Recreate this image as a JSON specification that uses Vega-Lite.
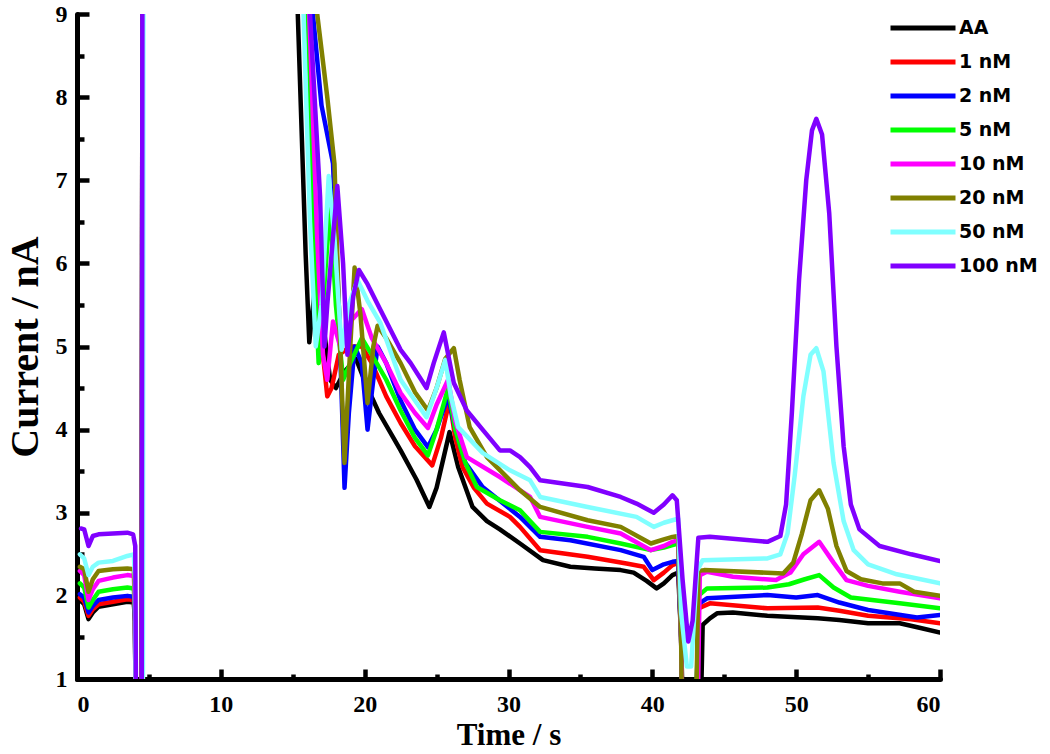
{
  "$schema": "https://vega.github.io/schema/vega-lite/v6.json",
  "width": 863,
  "height": 665,
  "autosize": {"type": "none"},
  "padding": {"left": 77, "top": 14, "right": 110, "bottom": 75},
  "background": "white",
  "config": {"view": {"stroke": null}},
  "data": {"values": [
    {"s":"AA","t":0.2,"v":1.95},{"s":"AA","t":0.5,"v":1.9},{"s":"AA","t":0.8,"v":1.72},{"s":"AA","t":1.1,"v":1.8},{"s":"AA","t":1.5,"v":1.87},{"s":"AA","t":2.5,"v":1.9},{"s":"AA","t":3.5,"v":1.93},{"s":"AA","t":3.95,"v":1.92},{"s":"AA","t":4.03,"v":1.7},{"s":"AA","t":4.1,"v":0},{"s":"AA","t":4.5,"v":0},{"s":"AA","t":4.55,"v":10},{"s":"AA","t":15.2,"v":10},{"s":"AA","t":15.35,"v":9},{"s":"AA","t":15.9,"v":6.1},{"s":"AA","t":16.15,"v":5.05},{"s":"AA","t":16.6,"v":5.8},{"s":"AA","t":17.1,"v":5.3},{"s":"AA","t":17.6,"v":4.6},{"s":"AA","t":18.0,"v":4.5},{"s":"AA","t":18.6,"v":4.7},{"s":"AA","t":19.4,"v":4.85},{"s":"AA","t":20.2,"v":4.5},{"s":"AA","t":21.0,"v":4.2},{"s":"AA","t":22.0,"v":3.9},{"s":"AA","t":22.5,"v":3.75},{"s":"AA","t":23.6,"v":3.4},{"s":"AA","t":24.5,"v":3.07},{"s":"AA","t":25.0,"v":3.3},{"s":"AA","t":25.9,"v":3.97},{"s":"AA","t":26.5,"v":3.55},{"s":"AA","t":27.5,"v":3.07},{"s":"AA","t":28.5,"v":2.9},{"s":"AA","t":29.4,"v":2.8},{"s":"AA","t":30.8,"v":2.63},{"s":"AA","t":32.4,"v":2.43},{"s":"AA","t":34.3,"v":2.35},{"s":"AA","t":36,"v":2.33},{"s":"AA","t":37.8,"v":2.31},{"s":"AA","t":38.7,"v":2.28},{"s":"AA","t":39.6,"v":2.18},{"s":"AA","t":40.3,"v":2.09},{"s":"AA","t":40.8,"v":2.15},{"s":"AA","t":41.4,"v":2.25},{"s":"AA","t":41.8,"v":2.28},{"s":"AA","t":42.0,"v":1.5},{"s":"AA","t":42.2,"v":0},{"s":"AA","t":43.3,"v":0},{"s":"AA","t":43.5,"v":1.65},{"s":"AA","t":44.0,"v":1.73},{"s":"AA","t":44.5,"v":1.79},{"s":"AA","t":45.6,"v":1.8},{"s":"AA","t":48,"v":1.76},{"s":"AA","t":51.5,"v":1.73},{"s":"AA","t":53,"v":1.71},{"s":"AA","t":55,"v":1.67},{"s":"AA","t":57.2,"v":1.67},{"s":"AA","t":58.5,"v":1.62},{"s":"AA","t":60,"v":1.56},

    {"s":"1 nM","t":0.2,"v":1.98},{"s":"1 nM","t":0.5,"v":1.93},{"s":"1 nM","t":0.8,"v":1.76},{"s":"1 nM","t":1.1,"v":1.84},{"s":"1 nM","t":1.5,"v":1.9},{"s":"1 nM","t":2.5,"v":1.93},{"s":"1 nM","t":3.5,"v":1.96},{"s":"1 nM","t":3.95,"v":1.95},{"s":"1 nM","t":4.03,"v":1.7},{"s":"1 nM","t":4.1,"v":0},{"s":"1 nM","t":4.5,"v":0},{"s":"1 nM","t":4.55,"v":10},{"s":"1 nM","t":15.9,"v":10},{"s":"1 nM","t":16.05,"v":9},{"s":"1 nM","t":16.6,"v":6.5},{"s":"1 nM","t":17.1,"v":4.9},{"s":"1 nM","t":17.4,"v":4.4},{"s":"1 nM","t":17.7,"v":4.5},{"s":"1 nM","t":18.2,"v":4.9},{"s":"1 nM","t":19.0,"v":5.0},{"s":"1 nM","t":19.8,"v":5.0},{"s":"1 nM","t":20.5,"v":4.8},{"s":"1 nM","t":21.5,"v":4.4},{"s":"1 nM","t":22.5,"v":4.08},{"s":"1 nM","t":23.5,"v":3.8},{"s":"1 nM","t":24.7,"v":3.57},{"s":"1 nM","t":25.3,"v":3.9},{"s":"1 nM","t":25.9,"v":4.35},{"s":"1 nM","t":26.3,"v":3.9},{"s":"1 nM","t":26.8,"v":3.55},{"s":"1 nM","t":27.6,"v":3.3},{"s":"1 nM","t":28.5,"v":3.11},{"s":"1 nM","t":30.1,"v":2.95},{"s":"1 nM","t":30.8,"v":2.83},{"s":"1 nM","t":32.2,"v":2.55},{"s":"1 nM","t":35.5,"v":2.47},{"s":"1 nM","t":38.2,"v":2.39},{"s":"1 nM","t":39.4,"v":2.35},{"s":"1 nM","t":40.1,"v":2.19},{"s":"1 nM","t":40.8,"v":2.28},{"s":"1 nM","t":41.4,"v":2.37},{"s":"1 nM","t":41.8,"v":2.4},{"s":"1 nM","t":42.0,"v":1.5},{"s":"1 nM","t":42.15,"v":0},{"s":"1 nM","t":43.0,"v":0},{"s":"1 nM","t":43.2,"v":1.85},{"s":"1 nM","t":44,"v":1.91},{"s":"1 nM","t":48,"v":1.85},{"s":"1 nM","t":51.5,"v":1.86},{"s":"1 nM","t":53,"v":1.82},{"s":"1 nM","t":55,"v":1.76},{"s":"1 nM","t":58,"v":1.72},{"s":"1 nM","t":60,"v":1.67},

    {"s":"2 nM","t":0.2,"v":2.02},{"s":"2 nM","t":0.5,"v":1.98},{"s":"2 nM","t":0.8,"v":1.8},{"s":"2 nM","t":1.1,"v":1.88},{"s":"2 nM","t":1.5,"v":1.95},{"s":"2 nM","t":2.5,"v":1.98},{"s":"2 nM","t":3.5,"v":2.0},{"s":"2 nM","t":3.95,"v":1.99},{"s":"2 nM","t":4.03,"v":1.7},{"s":"2 nM","t":4.1,"v":0},{"s":"2 nM","t":4.5,"v":0},{"s":"2 nM","t":4.55,"v":10},{"s":"2 nM","t":16.2,"v":10},{"s":"2 nM","t":16.4,"v":9},{"s":"2 nM","t":17.0,"v":7.9},{"s":"2 nM","t":17.8,"v":7.2},{"s":"2 nM","t":18.2,"v":5.5},{"s":"2 nM","t":18.6,"v":3.3},{"s":"2 nM","t":18.9,"v":4.2},{"s":"2 nM","t":19.3,"v":5.0},{"s":"2 nM","t":19.8,"v":4.8},{"s":"2 nM","t":20.2,"v":4.0},{"s":"2 nM","t":20.6,"v":4.6},{"s":"2 nM","t":20.9,"v":5.0},{"s":"2 nM","t":21.5,"v":4.8},{"s":"2 nM","t":22.5,"v":4.35},{"s":"2 nM","t":23.5,"v":4.0},{"s":"2 nM","t":24.4,"v":3.79},{"s":"2 nM","t":25.0,"v":4.0},{"s":"2 nM","t":25.8,"v":4.4},{"s":"2 nM","t":26.3,"v":4.0},{"s":"2 nM","t":27.0,"v":3.6},{"s":"2 nM","t":28.2,"v":3.31},{"s":"2 nM","t":30.8,"v":2.95},{"s":"2 nM","t":32.2,"v":2.71},{"s":"2 nM","t":34.3,"v":2.67},{"s":"2 nM","t":37.8,"v":2.55},{"s":"2 nM","t":39.4,"v":2.47},{"s":"2 nM","t":40.0,"v":2.31},{"s":"2 nM","t":40.8,"v":2.38},{"s":"2 nM","t":41.4,"v":2.41},{"s":"2 nM","t":41.8,"v":2.42},{"s":"2 nM","t":42.0,"v":1.5},{"s":"2 nM","t":42.15,"v":0},{"s":"2 nM","t":43.0,"v":0},{"s":"2 nM","t":43.2,"v":1.9},{"s":"2 nM","t":43.8,"v":1.97},{"s":"2 nM","t":48,"v":2.01},{"s":"2 nM","t":50,"v":1.98},{"s":"2 nM","t":51.5,"v":2.01},{"s":"2 nM","t":53,"v":1.92},{"s":"2 nM","t":55,"v":1.83},{"s":"2 nM","t":58.4,"v":1.74},{"s":"2 nM","t":60,"v":1.77},

    {"s":"5 nM","t":0.2,"v":2.15},{"s":"5 nM","t":0.5,"v":2.1},{"s":"5 nM","t":0.8,"v":1.86},{"s":"5 nM","t":1.1,"v":1.95},{"s":"5 nM","t":1.5,"v":2.05},{"s":"5 nM","t":2.5,"v":2.08},{"s":"5 nM","t":3.5,"v":2.1},{"s":"5 nM","t":3.95,"v":2.09},{"s":"5 nM","t":4.03,"v":1.8},{"s":"5 nM","t":4.1,"v":0},{"s":"5 nM","t":4.5,"v":0},{"s":"5 nM","t":4.55,"v":10},{"s":"5 nM","t":15.9,"v":10},{"s":"5 nM","t":16.05,"v":9},{"s":"5 nM","t":16.5,"v":6.0},{"s":"5 nM","t":16.8,"v":4.8},{"s":"5 nM","t":17.1,"v":5.5},{"s":"5 nM","t":17.6,"v":6.7},{"s":"5 nM","t":18.0,"v":5.5},{"s":"5 nM","t":18.5,"v":4.6},{"s":"5 nM","t":19.0,"v":4.8},{"s":"5 nM","t":19.8,"v":5.1},{"s":"5 nM","t":20.5,"v":4.9},{"s":"5 nM","t":21.5,"v":4.6},{"s":"5 nM","t":22.5,"v":4.23},{"s":"5 nM","t":23.5,"v":3.9},{"s":"5 nM","t":24.4,"v":3.69},{"s":"5 nM","t":25.0,"v":4.0},{"s":"5 nM","t":25.8,"v":4.5},{"s":"5 nM","t":26.3,"v":4.0},{"s":"5 nM","t":27.0,"v":3.6},{"s":"5 nM","t":27.8,"v":3.31},{"s":"5 nM","t":29.4,"v":3.15},{"s":"5 nM","t":30.8,"v":3.03},{"s":"5 nM","t":32.2,"v":2.77},{"s":"5 nM","t":35.5,"v":2.71},{"s":"5 nM","t":37.8,"v":2.63},{"s":"5 nM","t":39.9,"v":2.55},{"s":"5 nM","t":40.8,"v":2.58},{"s":"5 nM","t":41.4,"v":2.61},{"s":"5 nM","t":41.8,"v":2.63},{"s":"5 nM","t":42.0,"v":1.5},{"s":"5 nM","t":42.15,"v":0},{"s":"5 nM","t":43.0,"v":0},{"s":"5 nM","t":43.2,"v":2.0},{"s":"5 nM","t":43.8,"v":2.09},{"s":"5 nM","t":48,"v":2.1},{"s":"5 nM","t":49.5,"v":2.14},{"s":"5 nM","t":50.6,"v":2.2},{"s":"5 nM","t":51.6,"v":2.25},{"s":"5 nM","t":52.6,"v":2.1},{"s":"5 nM","t":53.8,"v":1.98},{"s":"5 nM","t":57.2,"v":1.91},{"s":"5 nM","t":60,"v":1.85},

    {"s":"10 nM","t":0.2,"v":2.3},{"s":"10 nM","t":0.5,"v":2.25},{"s":"10 nM","t":0.8,"v":1.95},{"s":"10 nM","t":1.1,"v":2.08},{"s":"10 nM","t":1.5,"v":2.18},{"s":"10 nM","t":2.5,"v":2.22},{"s":"10 nM","t":3.5,"v":2.25},{"s":"10 nM","t":3.95,"v":2.24},{"s":"10 nM","t":4.03,"v":1.9},{"s":"10 nM","t":4.1,"v":0},{"s":"10 nM","t":4.5,"v":0},{"s":"10 nM","t":4.55,"v":10},{"s":"10 nM","t":16.0,"v":10},{"s":"10 nM","t":16.15,"v":9},{"s":"10 nM","t":16.7,"v":6.3},{"s":"10 nM","t":17.1,"v":4.9},{"s":"10 nM","t":17.4,"v":4.6},{"s":"10 nM","t":17.8,"v":5.3},{"s":"10 nM","t":18.3,"v":5.0},{"s":"10 nM","t":19.0,"v":5.3},{"s":"10 nM","t":19.8,"v":5.45},{"s":"10 nM","t":20.5,"v":5.1},{"s":"10 nM","t":21.5,"v":4.8},{"s":"10 nM","t":22.5,"v":4.44},{"s":"10 nM","t":23.5,"v":4.2},{"s":"10 nM","t":24.4,"v":4.02},{"s":"10 nM","t":25.0,"v":4.3},{"s":"10 nM","t":25.8,"v":4.6},{"s":"10 nM","t":26.3,"v":4.1},{"s":"10 nM","t":27.1,"v":3.67},{"s":"10 nM","t":29.4,"v":3.43},{"s":"10 nM","t":31.5,"v":3.19},{"s":"10 nM","t":32.2,"v":2.95},{"s":"10 nM","t":35.5,"v":2.83},{"s":"10 nM","t":37.8,"v":2.75},{"s":"10 nM","t":39.9,"v":2.55},{"s":"10 nM","t":40.8,"v":2.6},{"s":"10 nM","t":41.4,"v":2.65},{"s":"10 nM","t":41.8,"v":2.67},{"s":"10 nM","t":42.0,"v":1.5},{"s":"10 nM","t":42.15,"v":0},{"s":"10 nM","t":43.1,"v":0},{"s":"10 nM","t":43.3,"v":2.25},{"s":"10 nM","t":43.8,"v":2.29},{"s":"10 nM","t":45.6,"v":2.23},{"s":"10 nM","t":48.6,"v":2.19},{"s":"10 nM","t":49.6,"v":2.28},{"s":"10 nM","t":50.5,"v":2.5},{"s":"10 nM","t":51.6,"v":2.65},{"s":"10 nM","t":52.6,"v":2.4},{"s":"10 nM","t":53.5,"v":2.19},{"s":"10 nM","t":55,"v":2.12},{"s":"10 nM","t":57.2,"v":2.05},{"s":"10 nM","t":60,"v":1.97},

    {"s":"20 nM","t":0.2,"v":2.35},{"s":"20 nM","t":0.5,"v":2.32},{"s":"20 nM","t":0.8,"v":2.05},{"s":"20 nM","t":1.1,"v":2.2},{"s":"20 nM","t":1.5,"v":2.3},{"s":"20 nM","t":2.5,"v":2.32},{"s":"20 nM","t":3.5,"v":2.33},{"s":"20 nM","t":3.95,"v":2.32},{"s":"20 nM","t":4.03,"v":2.0},{"s":"20 nM","t":4.1,"v":0},{"s":"20 nM","t":4.5,"v":0},{"s":"20 nM","t":4.55,"v":10},{"s":"20 nM","t":16.5,"v":10},{"s":"20 nM","t":16.7,"v":9},{"s":"20 nM","t":17.4,"v":8.0},{"s":"20 nM","t":17.9,"v":7.2},{"s":"20 nM","t":18.2,"v":5.5},{"s":"20 nM","t":18.6,"v":3.6},{"s":"20 nM","t":19.0,"v":5.0},{"s":"20 nM","t":19.3,"v":5.95},{"s":"20 nM","t":19.7,"v":5.4},{"s":"20 nM","t":20.2,"v":4.32},{"s":"20 nM","t":20.6,"v":5.0},{"s":"20 nM","t":20.9,"v":5.25},{"s":"20 nM","t":21.5,"v":5.1},{"s":"20 nM","t":22.5,"v":4.8},{"s":"20 nM","t":23.5,"v":4.45},{"s":"20 nM","t":24.4,"v":4.23},{"s":"20 nM","t":25.0,"v":4.5},{"s":"20 nM","t":25.6,"v":4.85},{"s":"20 nM","t":26.2,"v":4.98},{"s":"20 nM","t":26.6,"v":4.6},{"s":"20 nM","t":27.3,"v":4.03},{"s":"20 nM","t":28.5,"v":3.67},{"s":"20 nM","t":30.8,"v":3.27},{"s":"20 nM","t":32.2,"v":3.07},{"s":"20 nM","t":35.5,"v":2.91},{"s":"20 nM","t":37.8,"v":2.83},{"s":"20 nM","t":39.9,"v":2.63},{"s":"20 nM","t":40.8,"v":2.68},{"s":"20 nM","t":41.4,"v":2.71},{"s":"20 nM","t":41.8,"v":2.72},{"s":"20 nM","t":42.0,"v":1.5},{"s":"20 nM","t":42.1,"v":0},{"s":"20 nM","t":43.0,"v":0},{"s":"20 nM","t":43.2,"v":2.3},{"s":"20 nM","t":43.6,"v":2.31},{"s":"20 nM","t":49.1,"v":2.27},{"s":"20 nM","t":49.8,"v":2.4},{"s":"20 nM","t":50.4,"v":2.75},{"s":"20 nM","t":51.0,"v":3.15},{"s":"20 nM","t":51.6,"v":3.27},{"s":"20 nM","t":52.2,"v":3.05},{"s":"20 nM","t":52.8,"v":2.6},{"s":"20 nM","t":53.5,"v":2.3},{"s":"20 nM","t":54.5,"v":2.2},{"s":"20 nM","t":56.0,"v":2.15},{"s":"20 nM","t":57.2,"v":2.15},{"s":"20 nM","t":58.2,"v":2.05},{"s":"20 nM","t":60,"v":2.0},

    {"s":"50 nM","t":0.2,"v":2.5},{"s":"50 nM","t":0.5,"v":2.45},{"s":"50 nM","t":0.8,"v":2.25},{"s":"50 nM","t":1.1,"v":2.35},{"s":"50 nM","t":1.5,"v":2.4},{"s":"50 nM","t":2.5,"v":2.42},{"s":"50 nM","t":3.5,"v":2.48},{"s":"50 nM","t":3.95,"v":2.5},{"s":"50 nM","t":4.03,"v":2.2},{"s":"50 nM","t":4.1,"v":0},{"s":"50 nM","t":4.58,"v":0},{"s":"50 nM","t":4.62,"v":10},{"s":"50 nM","t":15.6,"v":10},{"s":"50 nM","t":15.75,"v":9},{"s":"50 nM","t":16.2,"v":6.5},{"s":"50 nM","t":16.6,"v":5.0},{"s":"50 nM","t":17.0,"v":5.5},{"s":"50 nM","t":17.5,"v":7.05},{"s":"50 nM","t":17.9,"v":6.3},{"s":"50 nM","t":18.4,"v":4.96},{"s":"50 nM","t":18.9,"v":5.5},{"s":"50 nM","t":19.5,"v":5.8},{"s":"50 nM","t":20.2,"v":5.55},{"s":"50 nM","t":21.1,"v":5.28},{"s":"50 nM","t":22.5,"v":4.6},{"s":"50 nM","t":24.3,"v":4.15},{"s":"50 nM","t":25.0,"v":4.5},{"s":"50 nM","t":25.6,"v":4.84},{"s":"50 nM","t":26.0,"v":4.4},{"s":"50 nM","t":26.5,"v":4.03},{"s":"50 nM","t":28.2,"v":3.72},{"s":"50 nM","t":30.1,"v":3.51},{"s":"50 nM","t":31.5,"v":3.39},{"s":"50 nM","t":32.2,"v":3.19},{"s":"50 nM","t":35.5,"v":3.07},{"s":"50 nM","t":38.9,"v":2.95},{"s":"50 nM","t":40.1,"v":2.83},{"s":"50 nM","t":40.8,"v":2.88},{"s":"50 nM","t":41.4,"v":2.91},{"s":"50 nM","t":41.8,"v":2.93},{"s":"50 nM","t":42.0,"v":1.8},{"s":"50 nM","t":42.4,"v":1.15},{"s":"50 nM","t":42.7,"v":1.15},{"s":"50 nM","t":43.1,"v":2.3},{"s":"50 nM","t":43.5,"v":2.43},{"s":"50 nM","t":48,"v":2.45},{"s":"50 nM","t":48.9,"v":2.5},{"s":"50 nM","t":49.4,"v":2.75},{"s":"50 nM","t":49.9,"v":3.45},{"s":"50 nM","t":50.5,"v":4.4},{"s":"50 nM","t":51.0,"v":4.9},{"s":"50 nM","t":51.4,"v":4.98},{"s":"50 nM","t":51.9,"v":4.7},{"s":"50 nM","t":52.6,"v":3.6},{"s":"50 nM","t":53.3,"v":2.9},{"s":"50 nM","t":54.0,"v":2.55},{"s":"50 nM","t":55.0,"v":2.38},{"s":"50 nM","t":57.0,"v":2.26},{"s":"50 nM","t":60,"v":2.15},

    {"s":"100 nM","t":0.28,"v":2.81},{"s":"100 nM","t":0.5,"v":2.8},{"s":"100 nM","t":0.8,"v":2.6},{"s":"100 nM","t":1.1,"v":2.72},{"s":"100 nM","t":1.5,"v":2.74},{"s":"100 nM","t":2.5,"v":2.75},{"s":"100 nM","t":3.5,"v":2.76},{"s":"100 nM","t":3.9,"v":2.74},{"s":"100 nM","t":4.05,"v":2.6},{"s":"100 nM","t":4.12,"v":0},{"s":"100 nM","t":4.5,"v":0},{"s":"100 nM","t":4.55,"v":10},{"s":"100 nM","t":16.0,"v":10},{"s":"100 nM","t":16.2,"v":9},{"s":"100 nM","t":16.9,"v":6.8},{"s":"100 nM","t":17.2,"v":5.0},{"s":"100 nM","t":17.4,"v":5.5},{"s":"100 nM","t":18.1,"v":6.93},{"s":"100 nM","t":18.5,"v":6.0},{"s":"100 nM","t":18.8,"v":4.9},{"s":"100 nM","t":19.2,"v":5.6},{"s":"100 nM","t":19.6,"v":5.92},{"s":"100 nM","t":20.2,"v":5.75},{"s":"100 nM","t":21.1,"v":5.44},{"s":"100 nM","t":22.5,"v":4.96},{"s":"100 nM","t":23.2,"v":4.8},{"s":"100 nM","t":24.3,"v":4.5},{"s":"100 nM","t":24.8,"v":4.8},{"s":"100 nM","t":25.5,"v":5.17},{"s":"100 nM","t":26.2,"v":4.56},{"s":"100 nM","t":27.1,"v":4.23},{"s":"100 nM","t":28.2,"v":4.0},{"s":"100 nM","t":29.4,"v":3.75},{"s":"100 nM","t":30.1,"v":3.75},{"s":"100 nM","t":30.8,"v":3.67},{"s":"100 nM","t":31.5,"v":3.55},{"s":"100 nM","t":32.2,"v":3.39},{"s":"100 nM","t":35.5,"v":3.31},{"s":"100 nM","t":37.8,"v":3.19},{"s":"100 nM","t":38.9,"v":3.11},{"s":"100 nM","t":40.1,"v":3.0},{"s":"100 nM","t":40.8,"v":3.1},{"s":"100 nM","t":41.4,"v":3.21},{"s":"100 nM","t":41.7,"v":3.15},{"s":"100 nM","t":42.1,"v":2.2},{"s":"100 nM","t":42.5,"v":1.45},{"s":"100 nM","t":42.8,"v":1.7},{"s":"100 nM","t":43.2,"v":2.7},{"s":"100 nM","t":44,"v":2.71},{"s":"100 nM","t":48,"v":2.65},{"s":"100 nM","t":48.9,"v":2.72},{"s":"100 nM","t":49.3,"v":3.1},{"s":"100 nM","t":49.7,"v":4.2},{"s":"100 nM","t":50.2,"v":5.8},{"s":"100 nM","t":50.7,"v":7.0},{"s":"100 nM","t":51.1,"v":7.6},{"s":"100 nM","t":51.4,"v":7.74},{"s":"100 nM","t":51.8,"v":7.55},{"s":"100 nM","t":52.3,"v":6.6},{"s":"100 nM","t":52.8,"v":5.0},{"s":"100 nM","t":53.3,"v":3.8},{"s":"100 nM","t":53.8,"v":3.1},{"s":"100 nM","t":54.4,"v":2.8},{"s":"100 nM","t":55.8,"v":2.6},{"s":"100 nM","t":58,"v":2.5},{"s":"100 nM","t":60,"v":2.42}
  ]},
  "resolve": {"axis": {"x": "independent", "y": "independent"}},
  "layer": [
    {
      "mark": {"type": "line", "clip": true, "opacity": 0, "strokeWidth": 0},
      "encoding": {
        "x": {
          "field": "t", "type": "quantitative",
          "scale": {"domain": [0, 60], "nice": false, "zero": false},
          "axis": {
            "orient": "bottom", "title": null, "labels": false, "domain": false, "ticks": false,
            "values": [0,10,20,30,40,50,60],
            "grid": true, "gridColor": "#000000", "gridWidth": 4.5, "gridOpacity": 1, "gridDash": [10, 2000], "gridDashOffset": 1355
          }
        },
        "y": {
          "field": "v", "type": "quantitative",
          "scale": {"domain": [1, 9], "nice": false, "zero": false},
          "axis": {
            "orient": "left", "title": null, "labels": false, "domain": false, "ticks": false,
            "values": [1,2,3,4,5,6,7,8,9],
            "grid": true, "gridColor": "#000000", "gridWidth": 4.5, "gridOpacity": 1, "gridDash": [12, 2000]
          }
        },
        "detail": {"field": "s", "type": "nominal"}
      }
    },
    {
      "mark": {"type": "line", "clip": true, "opacity": 0, "strokeWidth": 0},
      "encoding": {
        "x": {
          "field": "t", "type": "quantitative",
          "axis": {
            "orient": "bottom", "title": null, "labels": false, "domain": false, "ticks": false,
            "values": [5,15,25,35,45,55],
            "grid": true, "gridColor": "#000000", "gridWidth": 4.5, "gridOpacity": 1, "gridDash": [5, 2000], "gridDashOffset": 1345
          }
        },
        "y": {
          "field": "v", "type": "quantitative",
          "axis": {
            "orient": "left", "title": null, "labels": false, "domain": false, "ticks": false,
            "values": [1.5,2.5,3.5,4.5,5.5,6.5,7.5,8.5],
            "grid": true, "gridColor": "#000000", "gridWidth": 4.5, "gridOpacity": 1, "gridDash": [7, 2000]
          }
        },
        "detail": {"field": "s", "type": "nominal"}
      }
    },
    {
      "mark": {"type": "line", "clip": true, "strokeWidth": 4.5, "strokeJoin": "round", "strokeCap": "round"},
      "encoding": {
        "x": {
          "field": "t", "type": "quantitative",
          "axis": {
            "orient": "bottom",
            "title": "Time / s",
            "values": [0,10,20,30,40,50,60],
            "format": "d",
            "grid": false,
            "ticks": true, "tickSize": 6, "tickOpacity": 0,
            "domainColor": "black", "domainWidth": 5, "domainCap": "round",
            "labelFont": "Liberation Serif", "labelFontWeight": "bold", "labelFontSize": 24, "labelColor": "black",
            "labelPadding": 7,
            "titleFont": "Liberation Serif", "titleFontWeight": "bold", "titleFontSize": 31, "titleColor": "black",
            "titlePadding": 4
          }
        },
        "y": {
          "field": "v", "type": "quantitative",
          "axis": {
            "orient": "left",
            "title": "Current / nA",
            "values": [1,2,3,4,5,6,7,8,9],
            "format": "d",
            "grid": false, "ticks": false,
            "domainColor": "black", "domainWidth": 5, "domainCap": "round",
            "labelFont": "Liberation Serif", "labelFontWeight": "bold", "labelFontSize": 24, "labelColor": "black",
            "labelPadding": 10,
            "titleFont": "Liberation Serif", "titleFontWeight": "bold", "titleFontSize": 40, "titleColor": "black",
            "titlePadding": 10
          }
        },
        "color": {
          "field": "s", "type": "nominal", "sort": null,
          "scale": {
            "domain": ["AA","1 nM","2 nM","5 nM","10 nM","20 nM","50 nM","100 nM"],
            "range": ["#000000","#FF0000","#0000FF","#00FF00","#FF00FF","#808000","#80FFFF","#8000FF"]
          },
          "legend": {
            "title": null,
            "orient": "none", "legendX": 811, "legendY": -3,
            "padding": 0,
            "symbolType": "stroke", "symbolSize": 4225, "symbolStrokeWidth": 5,
            "clipHeight": 34, "rowPadding": 0,
            "labelFont": "DejaVu Sans", "labelFontWeight": "bold", "labelFontSize": 19, "labelColor": "black",
            "labelOffset": 1
          }
        }
      }
    }
  ]
}
